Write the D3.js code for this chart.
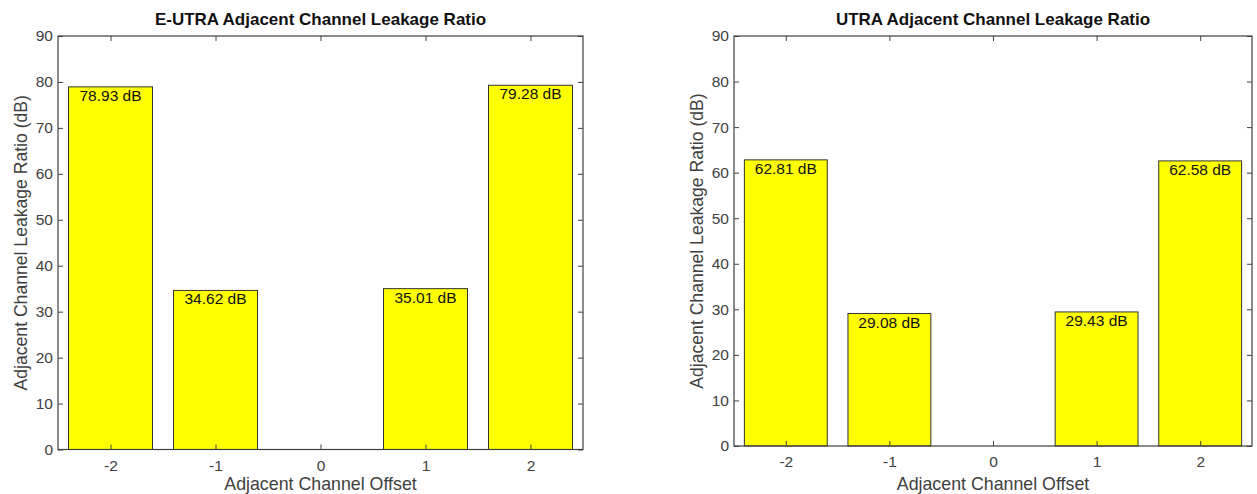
<!DOCTYPE html>
<html>
<head>
<meta charset="utf-8">
<script src="https://cdn.jsdelivr.net/npm/d3@7"></script>
<style>
  body { margin: 0; background: #fff; }
  svg text { font-family: "Liberation Sans", Arial, Helvetica, sans-serif; }
</style>
</head>
<body>
<svg id="chart" width="1257" height="494"></svg>
<script>
// channel offsets and ACLR values (dB)
const offsets = [-2, -1, 0, 1, 2];
const eutraAclr = [78.93, 34.62, 0, 35.01, 79.28];
const utraAclr = [62.81, 29.08, 0, 29.43, 62.58];
const yTicks = [0, 10, 20, 30, 40, 50, 60, 70, 80, 90];
const titles = ['E-UTRA Adjacent Channel Leakage Ratio', 'UTRA Adjacent Channel Leakage Ratio'];

const svg = d3.select('#chart');
const axisColor = '#404040';

// panel boxes: left, right, top, bottom
const panels = [
  { x0: 58, x1: 583, y0: 36, y1: 449.5, title: titles[0], values: eutraAclr },
  { x0: 734, x1: 1252, y0: 36, y1: 446, title: titles[1], values: utraAclr }
];

panels.forEach(p => {
  const g = svg.append('g');
  const x = d3.scaleLinear().domain([-2.5, 2.5]).range([p.x0, p.x1]);
  const y = d3.scaleLinear().domain([0, 90]).range([p.y1, p.y0]);
  const bw = (x(1) - x(0)) * 0.8;
  const rows = offsets.map((o, i) => ({ o, v: p.values[i] }));

  // bars
  g.selectAll('rect.bar').data(rows)
    .enter().append('rect').attr('class', 'bar')
    .attr('x', d => x(d.o) - bw / 2).attr('width', bw)
    .attr('y', d => y(d.v)).attr('height', d => y(0) - y(d.v))
    .attr('fill', '#ffff00').attr('stroke', '#333').attr('stroke-width', 1);

  // value labels
  g.selectAll('text.val').data(rows.filter(d => d.v > 0))
    .enter().append('text').attr('class', 'val')
    .attr('x', d => x(d.o)).attr('y', d => y(d.v) + 14)
    .attr('text-anchor', 'middle').attr('font-size', 15.5).attr('fill', '#111')
    .text(d => d.v.toFixed(2) + ' dB');

  // box
  g.append('rect').attr('x', p.x0).attr('y', p.y0)
    .attr('width', p.x1 - p.x0).attr('height', p.y1 - p.y0)
    .attr('fill', 'none').attr('stroke', axisColor).attr('stroke-width', 1.2);

  // axes with inward ticks
  const style = a => {
    a.select('.domain').remove();
    a.selectAll('.tick line').attr('stroke', axisColor);
    a.selectAll('.tick text').attr('fill', axisColor).attr('font-size', 15.5)
      .attr('font-family', '"Liberation Sans", Arial, sans-serif');
  };
  g.append('g').attr('transform', `translate(0,${p.y1})`)
    .call(d3.axisBottom(x).tickValues(offsets).tickFormat(d => String(d)).tickSizeInner(-5).tickPadding(10))
    .call(style);
  g.append('g').attr('transform', `translate(0,${p.y0})`)
    .call(d3.axisTop(x).tickValues(offsets).tickFormat('').tickSizeInner(-5))
    .call(style);
  g.append('g').attr('transform', `translate(${p.x0},0)`)
    .call(d3.axisLeft(y).tickValues(yTicks).tickSizeInner(-5).tickPadding(5))
    .call(style);
  g.append('g').attr('transform', `translate(${p.x1},0)`)
    .call(d3.axisRight(y).tickValues(yTicks).tickFormat('').tickSizeInner(-5))
    .call(style);

  // title
  g.append('text').attr('x', (p.x0 + p.x1) / 2).attr('y', 25)
    .attr('text-anchor', 'middle').attr('font-size', 17).attr('font-weight', 'bold')
    .attr('fill', '#111').text(p.title);

  // axis labels
  g.append('text').attr('x', (p.x0 + p.x1) / 2).attr('y', 490)
    .attr('text-anchor', 'middle').attr('font-size', 17.8).attr('fill', axisColor)
    .text('Adjacent Channel Offset');
  const ly = (p.y0 + p.y1) / 2;
  g.append('text').attr('transform', `translate(${p.x0 - 31},${ly}) rotate(-90)`)
    .attr('text-anchor', 'middle').attr('font-size', 17.6).attr('fill', axisColor)
    .text('Adjacent Channel Leakage Ratio (dB)');
});
</script>
</body>
</html>
